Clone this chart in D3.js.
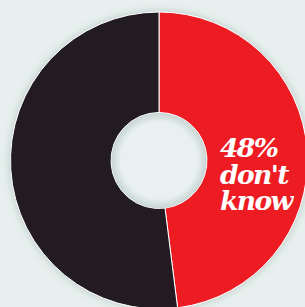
<!DOCTYPE html>
<html><head><meta charset="utf-8">
<script src="https://cdn.jsdelivr.net/npm/d3@7"></script>
<style>html,body{margin:0;padding:0;background:#e7f0ee;overflow:hidden}</style>
</head><body>
<script>
const categories = ["Don't know", "Other"];
const values = [48, 52];
const colors = ["#ed1c24", "#231f20"];
const labelLines = ["48%", "don't", "know"];

const W = 305, H = 307;
const cx = 159, cy = 160.5, rOuter = 148.5, rInner = 48;

const svg = d3.select("body").append("svg").attr("width", W).attr("height", H);
const defs = svg.append("defs");
const f = defs.append("filter").attr("id","sh").attr("x","-20%").attr("y","-20%").attr("width","140%").attr("height","140%");
f.append("feGaussianBlur").attr("in","SourceAlpha").attr("stdDeviation",4).attr("result","b");
f.append("feFlood").attr("flood-color","#7f9492").attr("flood-opacity",0.45);
f.append("feComposite").attr("in2","b").attr("operator","in").attr("result","s");
const m = f.append("feMerge");
m.append("feMergeNode").attr("in","s");
m.append("feMergeNode").attr("in","SourceGraphic");

const ig = defs.append("radialGradient").attr("id","hole");
ig.append("stop").attr("offset","0.8").attr("stop-color","#e8f1ef");
ig.append("stop").attr("offset","1").attr("stop-color","#c9d6d4");

svg.append("rect").attr("width",W).attr("height",H).attr("fill","#e7f0ee");

const pie = d3.pie().sort(null).value(d => d)(values);
const arc = d3.arc().innerRadius(rInner).outerRadius(rOuter);
const g = svg.append("g").attr("transform",`translate(${cx},${cy})`);
g.append("g").attr("filter","url(#sh)").selectAll("path").data(pie).join("path")
  .attr("d", arc).attr("fill",(d,i)=>colors[i]).attr("stroke","#ffffff").attr("stroke-width",1);
g.append("circle").attr("r", rInner-0.5).attr("fill","url(#hole)");

svg.append("g").selectAll("text").data(labelLines).join("text")
  .attr("x",220).attr("y",(d,i)=>157 + i*26.5)
  .attr("fill","#ffffff").attr("font-family","'DejaVu Serif', serif")
  .attr("font-weight","bold").attr("font-style","italic").attr("font-size",26.5)
  .attr("letter-spacing",-1.6).text(d=>d);
</script>
</body></html>
